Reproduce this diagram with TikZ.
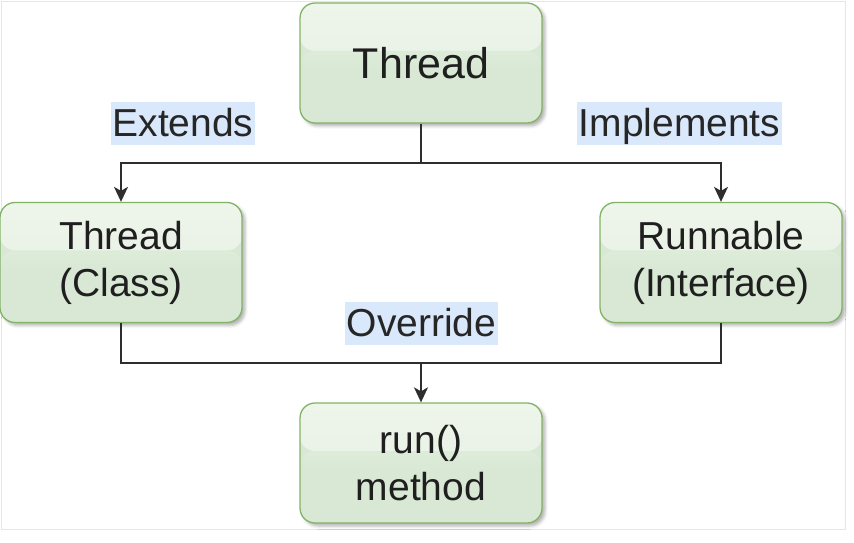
\documentclass[tikz,border=0pt]{standalone}
\usepackage{fontspec}
\setmainfont{Liberation Sans}
\usetikzlibrary{arrows.meta,shadows.blur}
\definecolor{nodeborder}{HTML}{82B366}
\definecolor{nodefill}{HTML}{D8E8D4}
\definecolor{nodetop}{HTML}{EEF5EB}
\definecolor{labelbg}{HTML}{DAE8FC}
\definecolor{framegray}{HTML}{E6E6E6}
\tikzset{
  box/.style={rounded corners=15pt, draw=nodeborder, line width=1.3pt,
    fill=nodefill, minimum width=242pt, minimum height=120pt, align=center,
    text=black!88, font=\fontsize{39}{47}\selectfont,
    blur shadow={shadow xshift=3pt, shadow yshift=-3pt, shadow blur radius=3pt, shadow opacity=30},
    path picture={
      \shade[top color=nodetop, bottom color=nodefill!45!nodetop]
        (path picture bounding box.north west) rectangle
        ([yshift=-48pt]path picture bounding box.north east);
      \shade[top color=nodefill!75!nodetop, bottom color=nodefill]
        ([yshift=-48pt]path picture bounding box.north west) rectangle
        ([yshift=-70pt]path picture bounding box.north east);
    }},
  bigbox/.style={box, font=\fontsize{43}{50}\selectfont},
  lbl/.style={fill=labelbg, inner xsep=2pt, inner ysep=0pt, text height=34pt,
    text depth=9pt, text=black!85, font=\fontsize{39}{47}\selectfont},
  conn/.style={line width=1.5pt, draw=black!82},
  arr/.style={conn, -{Stealth[length=15pt, width=14pt, inset=4pt]}},
}
\begin{document}
\begin{tikzpicture}[x=1pt,y=1pt]
\useasboundingbox (0,0) rectangle (854,542);
\draw[framegray, line width=1pt] (1,540) rectangle (845,12.7);

\node[bigbox] (thread) at (421,479) {Thread};
\node[box] (cls) at (121,279.5) {Thread\\(Class)};
\node[box] (runnable) at (721,279.5) {Runnable\\(Interface)};
\node[box] (run) at (421,79) {run()\\method};

\coordinate (j1) at (421,379);
\coordinate (j2) at (421,179);

\draw[conn] (thread.south) -- (j1);
\draw[arr] (j1) -| (cls.north);
\draw[arr] (j1) -| (runnable.north);
\draw[conn] (cls.south) |- (j2) -| (runnable.south);
\draw[arr] (j2) -- (run.north);

\node[lbl] (ext) at (183,418.5) {Extends};
\node[lbl] (impl) at (679.5,418.5) {Implements};
\node[lbl] (ovr) at (421.5,218.5) {Override};
\end{tikzpicture}
\end{document}
